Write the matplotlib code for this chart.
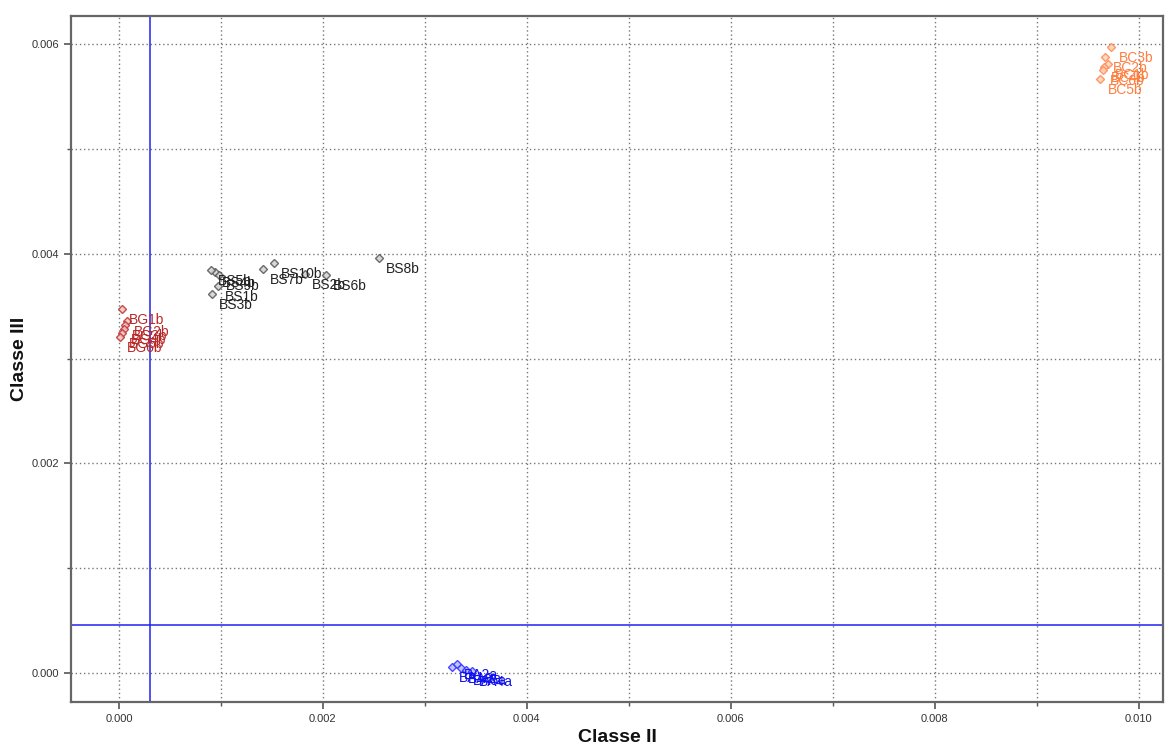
import matplotlib
matplotlib.use("Agg")
import matplotlib.pyplot as plt
from matplotlib.ticker import MultipleLocator, FormatStrFormatter

plt.rcParams['font.family'] = ['Liberation Sans', 'DejaVu Sans']

# Scores on Classe II (x) and Classe III (y)
bg_labels = ["BG1b", "BG2b", "BG3b", "BG4b", "BG5b", "BG6b"]
bg_x = [0.000029, 0.000078, 0.000059, 0.000049, 0.000029, 0.000010]
bg_y = [0.003473, 0.003359, 0.003321, 0.003282, 0.003244, 0.003206]

bs_labels = ["BS1b", "BS2b", "BS3b", "BS4b", "BS5b", "BS6b", "BS7b", "BS8b", "BS9b", "BS10b"]
bs_x = [0.000971, 0.001824, 0.000912, 0.000941, 0.000902, 0.002029, 0.001412, 0.002549, 0.000980, 0.001520]
bs_y = [0.003693, 0.003807, 0.003616, 0.003826, 0.003845, 0.003798, 0.003855, 0.003960, 0.003798, 0.003912]

bc_labels = ["BC3b", "BC2b", "BC1b", "BC4b", "BC6b", "BC5b"]
bc_x = [0.009735, 0.009676, 0.009696, 0.009657, 0.009647, 0.009627]
bc_y = [0.005973, 0.005878, 0.005811, 0.005782, 0.005754, 0.005668]

ba_labels = ["BA1a", "BA2a", "BA3a", "BA5a", "BA4a"]
ba_x = [0.003265, 0.003314, 0.003353, 0.003402, 0.003461]
ba_y = [0.000057, 0.000086, 0.000048, 0.000029, 0.000019]

# Reference lines
ref_x = 0.000304
ref_y = 0.000458

groups = [
    (bg_labels, bg_x, bg_y, "#c03030", "#f2c4c4", "#b82828"),
    (bs_labels, bs_x, bs_y, "#555555", "#d0d0d0", "#222222"),
    (bc_labels, bc_x, bc_y, "#ff8a50", "#ffd0b8", "#ff7f3f"),
    (ba_labels, ba_x, ba_y, "#3030ff", "#b8b8ff", "#1010ee"),
]

fig = plt.figure(figsize=(11.68, 7.54), dpi=100)
ax = fig.add_axes([0.0608, 0.069, 0.9349, 0.9098])

ax.set_xlim(-0.00047, 0.01024)
ax.set_ylim(-0.000277, 0.00627)

ax.xaxis.set_major_locator(MultipleLocator(0.002))
ax.xaxis.set_minor_locator(MultipleLocator(0.001))
ax.yaxis.set_major_locator(MultipleLocator(0.002))
ax.yaxis.set_minor_locator(MultipleLocator(0.001))
ax.xaxis.set_major_formatter(FormatStrFormatter('%.3f'))
ax.yaxis.set_major_formatter(FormatStrFormatter('%.3f'))

ax.grid(True, which='both', linestyle=(0, (1, 2)), color='#777777', linewidth=1.0)
ax.set_axisbelow(True)

ax.tick_params(which='major', direction='out', length=5, width=1.2, color='#555555',
               labelsize=8, labelcolor='#333333')
ax.tick_params(which='minor', direction='out', length=3, width=1.0, color='#555555')
for s in ax.spines.values():
    s.set_color('#666666')
    s.set_linewidth(1.6)

ax.axvline(ref_x, color='#2222ee', linewidth=1.1, zorder=2)
ax.axhline(ref_y, color='#2222ee', linewidth=1.1, zorder=2)

for labels, xs, ys, mcol, fcol, tcol in groups:
    ax.plot(xs, ys, linestyle='none', marker='D', markersize=3.6,
            markerfacecolor=fcol, markeredgecolor=mcol, markeredgewidth=1.0,
            alpha=0.85, zorder=3)
    for lab, x, y in zip(labels, xs, ys):
        ax.annotate(lab, (x, y), xytext=(5, -3), textcoords='offset points',
                    ha='left', va='top', fontsize=10, color=tcol, zorder=4)

ax.set_xlabel('Classe II', fontsize=14, fontweight='bold', color='#111111', labelpad=4)
ax.set_ylabel('Classe III', fontsize=14, fontweight='bold', color='#111111')
ax.yaxis.set_label_coords(-0.039, 0.5)

fig.savefig('out.png', dpi=100)
